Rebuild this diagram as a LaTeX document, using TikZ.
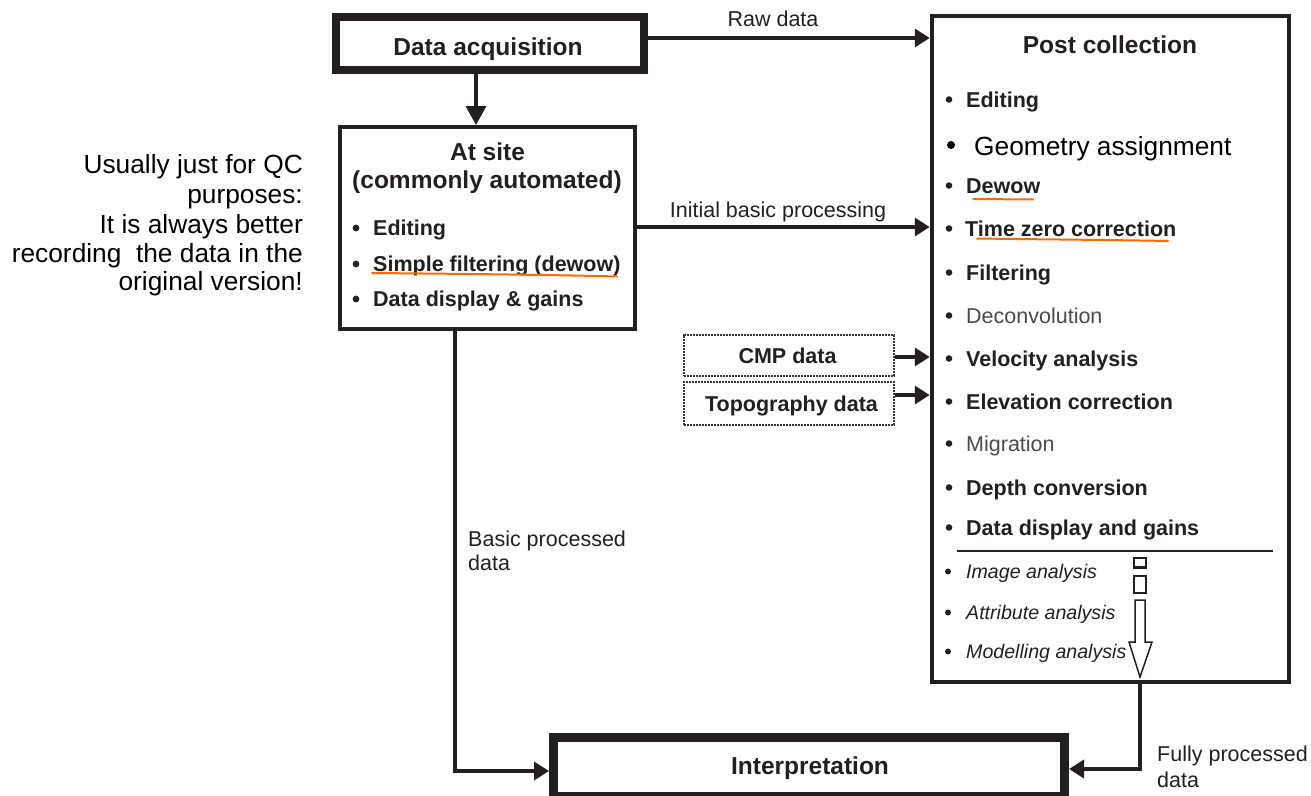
\documentclass[tikz,border=0pt]{standalone}
\usepackage{fontspec}
\setmainfont{Liberation Sans}
\usetikzlibrary{arrows.meta}
\definecolor{ink}{HTML}{231F20}
\definecolor{grayink}{HTML}{4A4A4A}
\definecolor{uline}{HTML}{FF6A00}
\newcommand{\myfs}[1]{\fontsize{#1}{#1}\selectfont}
\begin{document}
\begin{tikzpicture}[x=1pt,y=-1pt,
  box/.style={draw=ink, rectangle, inner sep=0pt},
  dbox/.style={draw=ink!90, rectangle, inner sep=0pt, line width=2.4pt, dash pattern=on 2.4pt off 0.6pt},
  hd/.style={font=\myfs{24.5}\bfseries, text=ink, inner sep=0pt, anchor=base},
  item/.style={font=\myfs{21.5}\bfseries, text=ink, inner sep=0pt, anchor=base west},
  itemr/.style={font=\myfs{21.5}, text=grayink, inner sep=0pt, anchor=base west},
  itemi/.style={font=\myfs{19.6}\itshape, text=ink, inner sep=0pt, anchor=base west},
  lbl/.style={font=\myfs{21.5}, text=ink, inner sep=0pt},
  note/.style={font=\myfs{26.3}, text=black, inner sep=0pt, anchor=base east},
  conn/.style={draw=ink, line width=3.5pt, -{Triangle[length=15pt,width=18pt]}},
  hol/.style={draw=ink, line width=1.5pt, fill=white},
  ul/.style={draw=uline, line width=2pt, line cap=round}
]
\useasboundingbox (0,0) rectangle (1311,795);

% boxes
\node[box, line width=7.5pt, minimum width=308pt, minimum height=53pt] (acq) at (490,43.5) {};
\node[box, line width=4pt, minimum width=295pt, minimum height=202pt] (site) at (487.5,228) {};
\node[box, line width=4.5pt, minimum width=357pt, minimum height=666pt] (post) at (1110.5,349) {};
\node[box, line width=9pt, minimum width=511pt, minimum height=59pt] (interp) at (809,767) {};
\node[dbox, minimum width=210pt, minimum height=41pt] (cmp) at (789,355.5) {};
\node[dbox, minimum width=210pt, minimum height=43pt] (topo) at (789,403.5) {};

% box titles
\node[hd] (acqt) at (488,55) {Data acquisition};
\node[hd] (sitet1) at (487.5,160) {At site};
\node[hd] (sitet2) at (487,188) {(commonly automated)};
\node[hd] (postt) at (1110,53) {Post collection};
\node[hd] (interpt) at (810,774) {Interpretation};
\node[hd, font=\myfs{21.5}\bfseries] (cmpt) at (787.5,363) {CMP data};
\node[hd, font=\myfs{21.5}\bfseries] (topot) at (791.5,411) {Topography data};

% at site items
\foreach \y in {235,271,306} \fill[ink] (356,\y-7) circle (3.4pt);
\node[item] (s1) at (373,235) {Editing};
\node[item] (s2) at (373,271) {Simple filtering (dewow)};
\node[item] (s3) at (373,306) {Data display \& gains};

% post collection items
\foreach \y in {107,193,236,280,323,366,409,451,495,535} \fill[ink] (949,\y-7.5) circle (3.3pt);
\fill[black] (951,145) circle (4pt);
\node[item] (p1) at (966,107) {Editing};
\node[anchor=base west, inner sep=0pt, font=\myfs{26.3}, text=black] (p2) at (974,155) {Geometry assignment};
\node[item] (p3) at (966,193) {Dewow};
\node[item] (p4) at (965,236) {Time zero correction};
\node[item] (p5) at (966,280) {Filtering};
\node[itemr] (p6) at (966,323) {Deconvolution};
\node[item] (p7) at (966,366) {Velocity analysis};
\node[item] (p8) at (966,409) {Elevation correction};
\node[itemr] (p9) at (966,451) {Migration};
\node[item] (p10) at (966,495) {Depth conversion};
\node[item] (p11) at (966,535) {Data display and gains};
\draw[draw=ink, line width=1.5pt] (957,551) -- (1273,551);
\foreach \y in {578,619,658} \fill[ink] (948,\y-6.5) circle (3pt);
\node[itemi] (q1) at (966,578) {Image analysis};
\node[itemi] (q2) at (966,619) {Attribute analysis};
\node[itemi] (q3) at (966,658) {Modelling analysis};

% hollow arrow
\draw[hol] (1134,558) rectangle (1146,568);
\draw[draw=ink, line width=2.5pt] (1134,567) -- (1146,567);
\draw[hol] (1134,576) rectangle (1146,593);
\draw[hol] (1135,600) -- (1145,600) -- (1145,642) -- (1152,642) -- (1140,677) -- (1129,642) -- (1135,642) -- cycle;

% orange underlines
\draw[ul] (372,273) .. controls (480,274) and (560,275) .. (617,276.5);
\draw[ul] (973,199) -- (1033,199.5);
\draw[ul] (977,238.5) .. controls (1050,239.5) and (1120,240) .. (1168,241);

% connectors
\coordinate (ax) at (476,0);
\draw[conn, -{Triangle[length=19pt,width=20pt]}] (ax |- acq.south) -- (ax |- site.north);
\coordinate (ry) at (0,38);
\draw[conn] (acq.east |- ry) -- (post.west |- ry);
\coordinate (iy) at (0,227);
\draw[conn] (site.east |- iy) -- (post.west |- iy);
\coordinate (cy) at (0,357);
\draw[conn] (cmp.east |- cy) -- (post.west |- cy);
\coordinate (ty) at (0,395);
\draw[conn] (topo.east |- ty) -- (post.west |- ty);
\coordinate (bx) at (455,771);
\draw[conn] (bx |- site.south) -- (bx) -- (bx -| interp.west);
\coordinate (fx) at (1140,769);
\draw[conn] (fx |- post.south) -- (fx) -- (fx -| interp.east);

% connector labels
\node[lbl, anchor=base] (rawl) at (773,27) {Raw data};
\node[lbl, anchor=base] (inil) at (778,217) {Initial basic processing};
\node[lbl, anchor=base west] (bas1) at (468,546) {Basic processed};
\node[lbl, anchor=base west] (bas2) at (468,570) {data};
\node[lbl, anchor=base west] (ful1) at (1157,761) {Fully processed};
\node[lbl, anchor=base west] (ful2) at (1157,787) {data};

% side note
\node[note] (n1) at (303,173) {Usually just for QC};
\node[note] (n2) at (303,203) {purposes:};
\node[note] (n3) at (303,233) {It is always better};
\node[note] (n4) at (303,262) {recording\ \ the data in the};
\node[note] (n5) at (303,290) {original version!};
\end{tikzpicture}
\end{document}
